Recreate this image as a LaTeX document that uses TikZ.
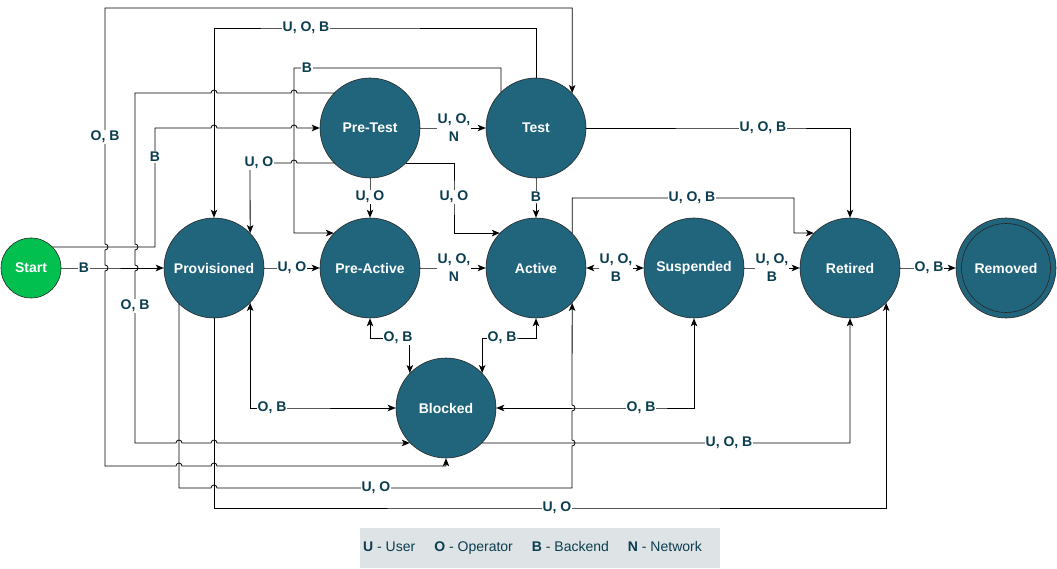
\documentclass[tikz,border=0pt]{standalone}
\usepackage{fontspec}
\setmainfont{Liberation Sans}
\usetikzlibrary{arrows.meta}
\definecolor{statefill}{HTML}{21657D}
\definecolor{startfill}{HTML}{02C04F}
\definecolor{labeltext}{HTML}{0A3D4F}
\definecolor{legendfill}{HTML}{DEE3E5}
% line jumps: right, left, up, down over the crossing at (#1,#2)
\newcommand{\hopR}[2]{-- (#1-3,#2) arc[start angle=180,end angle=0,radius=3pt]}
\newcommand{\hopL}[2]{-- (#1+3,#2) arc[start angle=0,end angle=180,radius=3pt]}
\newcommand{\hopU}[2]{-- (#1,#2+3) arc[start angle=-90,end angle=90,radius=3pt]}
\newcommand{\hopD}[2]{-- (#1,#2-3) arc[start angle=90,end angle=-90,radius=3pt]}
\tikzset{
	state/.style={circle, fill=statefill, draw=black!85, line width=0.6pt, minimum size=100pt, inner sep=0pt, text=white, font=\fontsize{14pt}{17pt}\selectfont\bfseries},
	lbl/.style={fill=white, inner sep=1pt, text=labeltext, align=center, font=\fontsize{14pt}{18pt}\selectfont\bfseries},
	flow/.style={line width=0.8pt}
}
\begin{document}
\begin{tikzpicture}[x=1pt, y=-1pt, >={Stealth[length=8pt,width=6.5pt,inset=2pt]}]
	\useasboundingbox (0,0) rectangle (1057,569);
	\node[state, fill=startfill, minimum size=60pt] (start) at (31,268) {Start};
	\node[state] (prov) at (214,268) {Provisioned};
	\node[state] (preact) at (370,268) {Pre-Active};
	\node[state] (act) at (536,268) {Active};
	\node[state] (susp) at (694,268) {Suspended};
	\node[state] (ret) at (850,268) {Retired};
	\node[state] (rem) at (1006,268) {Removed};
	\draw[line width=0.6pt, black!85] (rem.center) circle[radius=44.5pt];
	\node[state] (pretest) at (370,128) {Pre-Test};
	\node[state] (test) at (536,128) {Test};
	\node[state] (blk) at (446,408) {Blocked};
%	straight ones
	\draw[flow,->] (start.east) -- (84,268) node[lbl]{B} -- (prov.west);
	\draw[flow,->] (prov.east) -- (292,268) node[lbl]{U, O} -- (preact.west);
	\draw[flow,->] (preact.east) -- (454,268) node[lbl]{U, O,\\N} -- (act.west);
	\draw[flow,<->] (act.east) -- (616,268) node[lbl]{U, O,\\B} -- (susp.west);
	\draw[flow,->] (susp.east) -- (772,268) node[lbl]{U, O,\\B} -- (ret.west);
	\draw[flow,->] (ret.east) -- (929,268) node[lbl]{O, B} -- (rem.west);
	\draw[flow,->] (pretest.east) -- (454,128) node[lbl]{U, O,\\N} -- (test.west);
	\draw[flow,->] (pretest.south) -- (370,197) node[lbl]{U, O} -- (preact.north);
	\draw[flow,->] (test.south) -- (536,197) node[lbl]{B} -- (act.north);
	\draw[flow,->] (test.east) -- (763,128) node[lbl]{U, O, B} -| (ret.north);
%	upper routes
	\draw[flow,->] (start.44) -| (155,157) node[lbl]{B} -- (155,128) \hopR{214}{128} \hopR{294}{128} -- (pretest.west);
	\draw[flow,->] (test.north) |- (306,28) node[lbl]{U, O, B} -| (prov.north);
	\draw[flow,->] (test.134) |- (307,68) node[lbl]{B} -| (294,233) -- (preact.136);
	\draw[flow,->] (pretest.224) \hopL{294}{163} -- (259,163) node[lbl]{U, O} -- (250,163) -- (prov.44);
	\draw[flow,->] (pretest.-44) -| (454,197) node[lbl]{U, O} |- (act.136);
	\draw[flow,->] (act.44) |- (692,198) node[lbl]{U, O, B} -| (794,233) -- (ret.136);
	\draw[flow,<->] (blk.south) -- (446,466) \hopL{214}{466} \hopL{179}{466} -- (105,466) \hopU{105}{268} \hopU{105}{247} -- (105,137) node[lbl]{O, B} -- (105,8) -| (test.44);
	\draw[flow,->] (pretest.136) \hopL{294}{93} \hopL{214}{93} -- (135,93) \hopD{135}{247} \hopD{135}{268} -- (135,306) node[lbl]{O, B} -- (135,443) \hopR{179}{443} \hopR{214}{443} -- (blk.224);
%	lower routes
	\draw[flow,<->] (prov.-44) |- (272,408) node[lbl]{O, B} -- (blk.west);
	\draw[flow,<->] (preact.south) |- (398,338) node[lbl]{O, B} -| (blk.136);
	\draw[flow,<->] (act.south) |- (502,338) node[lbl]{O, B} -| (blk.44);
	\draw[flow,<->] (susp.south) |- (641,408) node[lbl]{O, B} -- (blk.east);
	\draw[flow,->] (blk.-44) -- (729,443) node[lbl]{U, O, B} -| (ret.south);
	\draw[flow,->] (prov.226) -- (179,488) \hopR{214}{488} -- (376,488) node[lbl]{U, O} -- (572,488) \hopU{572}{443} \hopU{572}{408} -- (act.-44);
	\draw[flow,->] (prov.south) |- (557,508) node[lbl]{U, O} -| (ret.-44);
%	legend
	\node[fill=legendfill, minimum width=360pt, minimum height=40pt, inner sep=0pt] (legend) at (540,548) {};
	\node[anchor=west, inner sep=0pt, text=labeltext, font=\fontsize{14pt}{17pt}\selectfont] (legendtext) at (363,548) {\textbf{U} - User\hspace{19pt}\textbf{O} - Operator\hspace{19pt}\textbf{B} - Backend\hspace{19pt}\textbf{N} - Network};
\end{tikzpicture}
\end{document}
